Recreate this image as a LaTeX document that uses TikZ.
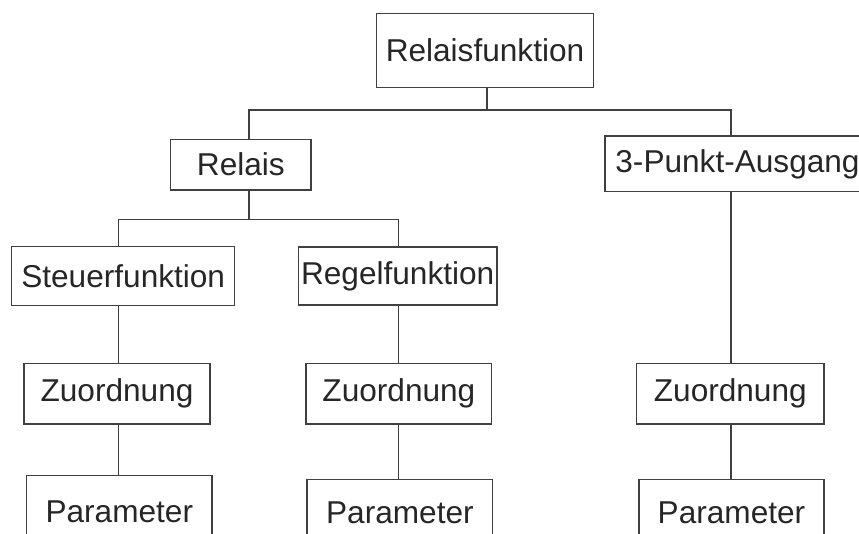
\documentclass[tikz,border=0pt]{standalone}
\usepackage{fontspec}
\setmainfont{Liberation Sans}
\begin{document}
\begin{tikzpicture}[x=1pt,y=-1pt,
  box/.style={draw=black!75, line width=1.2pt, inner sep=0pt, text=black!85,
    font=\fontsize{31.6}{36}\selectfont},
  conn/.style={draw=black!75, line width=1.2pt}]
\useasboundingbox (0,0) rectangle (859,534);
\clip (0,0) rectangle (859,534);
\node[box, minimum width=216.6pt, minimum height=74.4pt] (rf) at (485,50.5) {Relaisfunktion};
\node[box, minimum width=140.3pt, minimum height=50.7pt] (rel) at (240.9,164.7) {Relais};
\node[box, minimum width=265pt, minimum height=55.7pt] (dp) at (737.5,163.9) {3-Punkt-Ausgang};
\node[box, minimum width=223pt, minimum height=59pt] (st) at (123.2,276.2) {Steuerfunktion};
\node[box, minimum width=198.7pt, minimum height=58pt] (rg) at (397.7,276) {Regelfunktion};
\node[box, minimum width=186pt, minimum height=60.7pt] (zl) at (117,393.7) {Zuordnung};
\node[box, minimum width=185.7pt, minimum height=60.7pt] (zm) at (398.9,393.7) {Zuordnung};
\node[box, minimum width=187.3pt, minimum height=60.7pt] (zr) at (730.3,393.7) {Zuordnung};
\node[box, minimum width=185.3pt, minimum height=72pt] (pl) at (119.3,511.7) {Parameter};
\node[box, minimum width=185.7pt, minimum height=66pt] (pm) at (399.9,512.3) {Parameter};
\node[box, minimum width=185pt, minimum height=66pt] (pr) at (731.5,512.3) {Parameter};
% junctions and columns
\coordinate (j1) at (487,110);
\coordinate (j2) at (249,219.3);
\coordinate (cl) at (118.7,0);
\coordinate (cm) at (398.5,0);
\coordinate (cr) at (731,0);
\coordinate (ca) at (249,0);
% connectors
\draw[conn] (j1 |- rf.south) -- (j1);
\draw[conn] (ca |- rel.north) |- (j1) -| (cr |- dp.north);
\draw[conn] (j2 |- rel.south) -- (j2);
\draw[conn] (cl |- st.north) |- (j2) -| (cm |- rg.north);
\draw[conn] (cl |- st.south) -- (cl |- zl.north);
\draw[conn] (cl |- zl.south) -- (cl |- pl.north);
\draw[conn] (cm |- rg.south) -- (cm |- zm.north);
\draw[conn] (cm |- zm.south) -- (cm |- pm.north);
\draw[conn] (cr |- dp.south) -- (cr |- zr.north);
\draw[conn] (cr |- zr.south) -- (cr |- pr.north);
\end{tikzpicture}
\end{document}
